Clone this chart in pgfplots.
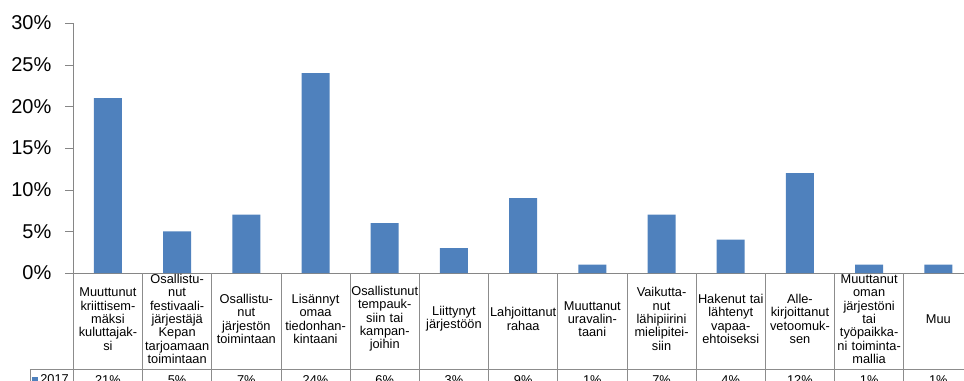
\documentclass[border=0pt]{standalone}
\usepackage{pgfplots}
\pgfplotsset{compat=1.18}
\usepackage{pgfplotstable}
\usepackage{fontspec}
\setmainfont{Liberation Sans}

\definecolor{barblue}{HTML}{4F81BD}
\definecolor{axisgray}{HTML}{868686}
\definecolor{gridgray}{HTML}{8C8C8C}

% share of respondents (%) per action, 2017
\pgfplotstableread{
idx val
0  21
1  5
2  7
3  24
4  6
5  3
6  9
7  1
8  7
9  4
10 12
11 1
12 1
}\results

\newcommand{\cellfont}{\fontsize{9.6}{10}\selectfont}

\begin{document}
\begin{tikzpicture}
\begin{axis}[
  at={(0,0)}, anchor=south west,
  scale only axis,
  width=674.7pt, height=187.5pt,
  xmin=-0.5, xmax=12.5, ymin=0, ymax=30,
  axis lines=left,
  axis line style={-, draw=axisgray},
  clip=false,
  tick align=outside,
  major tick length=6pt,
  ytick={0,5,...,30},
  y tick style={draw=axisgray},
  /pgf/number format/assume math mode=true,
  yticklabel={\pgfmathprintnumber{\tick}\%},
  yticklabel style={font=\fontsize{15}{15}\selectfont, text=black, xshift=-7pt},
  xtick={0,...,12},
  x tick style={draw=none},
  xticklabels={
    {Muuttunut\\kriittisem-\\mäksi\\kuluttajak-\\si},
    {Osallistu-\\nut\\festivaali-\\järjestäjä\\Kepan\\tarjoamaan\\toimintaan},
    {Osallistu-\\nut\\järjestön\\toimintaan},
    {Lisännyt\\omaa\\tiedonhan-\\kintaani},
    {Osallistunut\\tempauk-\\siin tai\\kampan-\\joihin},
    {Liittynyt\\järjestöön},
    {Lahjoittanut\\rahaa},
    {Muuttanut\\uravalin-\\taani},
    {Vaikutta-\\nut\\lähipiirini\\mielipitei-\\siin},
    {Hakenut tai\\lähtenyt\\vapaa-\\ehtoiseksi},
    {Alle-\\kirjoittanut\\vetoomuk-\\sen},
    {Muuttanut\\oman\\järjestöni\\tai\\työpaikka-\\ni toiminta-\\mallia},
    {Muu}},
  xticklabel style={font=\cellfont, text width=54pt,
    align=center, anchor=center, inner sep=0pt, yshift=-28.5pt},
  legend style={at={(axis description cs:-0.0459,-0.428)}, anchor=west,
    draw=none, fill=none, inner sep=0pt, font=\cellfont,
    /tikz/every even column/.style={column sep=1pt}},
  legend cell align=left,
]
\addplot[ybar, bar width=21pt, fill=barblue, draw=none,
  legend image code/.code={\fill[barblue] (0pt,-2pt) rectangle (4pt,2pt);}]
  table[x=idx, y=val]{\results};
\addlegendentry{2017}

% value row of the data table
\addplot[draw=none, mark=none, forget plot,
  nodes near coords={\pgfmathprintnumber{\pgfplotspointmeta}\%},
  point meta=explicit,
  every node near coord/.style={anchor=center, yshift=-80pt,
    font=\cellfont, inner sep=0pt}]
  table[x=idx, y expr=0, meta=val]{\results};

% data table grid
\pgfplotsinvokeforeach{-0.5,0.5,...,12.5}{
  \draw[gridgray] (axis cs:#1,0) -- ([yshift=-82.5pt]axis cs:#1,0);
}
\draw[gridgray] ([shift={(-32.5pt,-72pt)}]axis cs:-0.5,0) -- ([yshift=-72pt]axis cs:12.5,0);
\draw[gridgray] ([shift={(-32.5pt,-72pt)}]axis cs:-0.5,0) -- ([shift={(-32.5pt,-82.5pt)}]axis cs:-0.5,0);
\end{axis}
\pgfresetboundingbox
\useasboundingbox (-55pt,-80.25pt) rectangle (668pt,204.75pt);
\end{tikzpicture}
\end{document}
